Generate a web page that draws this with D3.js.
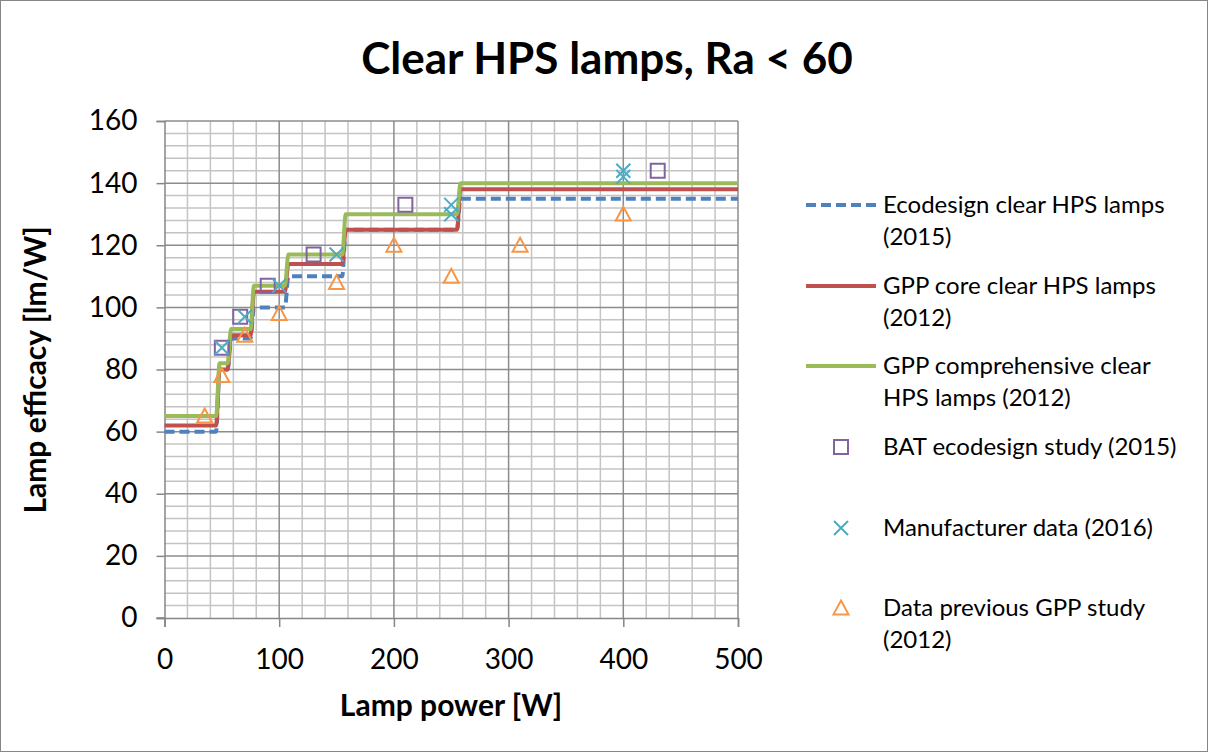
<!DOCTYPE html>
<html>
<head>
<meta charset="utf-8">
<script src="https://cdn.jsdelivr.net/npm/d3@7"></script>
<style>
  body { margin: 0; background: #fff; }
  svg { display: block; font-family: Lato, "Open Sans", sans-serif; }
</style>
</head>
<body>
<svg width="1209" height="753"></svg>
<script>
// step lines (lamp power W, efficacy lm/W)
const ecoPower = [0, 45, 48, 55, 58, 75, 78, 105, 108, 155, 158, 255, 258, 500];
const ecoEff   = [60, 60, 80, 80, 90, 90, 100, 100, 110, 110, 125, 125, 135, 135];
const corePower = [0, 45, 48, 55, 58, 75, 78, 105, 108, 155, 158, 255, 258, 500];
const coreEff   = [62, 62, 80, 80, 91, 91, 105, 105, 114, 114, 125, 125, 138, 138];
const compPower = [0, 45, 48, 55, 58, 75, 78, 105, 108, 155, 158, 255, 258, 500];
const compEff   = [65, 65, 82, 82, 93, 93, 107, 107, 117, 117, 130, 130, 140, 140];

// scatter series
const batPower = [50, 66, 90, 130, 210, 430];
const batEff   = [87, 97, 107, 117, 133, 144];
const manPower = [50, 70, 100, 150, 250, 250, 400, 400];
const manEff   = [87, 97, 107, 117, 133, 130, 144, 142];
const prevPower = [35, 50, 70, 100, 150, 200, 250, 310, 400];
const prevEff   = [65, 78, 91, 98, 108, 120, 110, 120, 130];

const xTicks = [0, 100, 200, 300, 400, 500];
const yTicks = [0, 20, 40, 60, 80, 100, 120, 140, 160];

const legendNames = [
  ["Ecodesign clear HPS lamps", "(2015)"],
  ["GPP core clear HPS lamps", "(2012)"],
  ["GPP comprehensive clear", "HPS lamps (2012)"],
  ["BAT ecodesign study (2015)"],
  ["Manufacturer data (2016)"],
  ["Data previous GPP study", "(2012)"]
];

var svg = d3.select("svg");
var x = d3.scaleLinear().domain([0, 500]).range([164.5, 738]);
var y = d3.scaleLinear().domain([0, 160]).range([618, 121]);

// chart border
svg.append("rect").attr("x", 0.5).attr("y", 0.5).attr("width", 1207).attr("height", 751)
  .attr("fill", "none").attr("stroke", "#868686").attr("stroke-width", 1);

// minor grid
var minorX = d3.range(0, 501, 20).filter(d => d % 100 != 0);
var minorY = d3.range(0, 161, 4).filter(d => d % 20 != 0);
svg.append("g").selectAll("line").data(minorX).enter().append("line")
  .attr("x1", d => x(d)).attr("x2", d => x(d)).attr("y1", y(0)).attr("y2", y(160))
  .attr("stroke", "#c4c4c4").attr("stroke-width", 1.5);
svg.append("g").selectAll("line").data(minorY).enter().append("line")
  .attr("x1", x(0)).attr("x2", x(500)).attr("y1", d => y(d)).attr("y2", d => y(d))
  .attr("stroke", "#c4c4c4").attr("stroke-width", 1.5);
// major grid
svg.append("g").selectAll("line").data(xTicks.slice(1)).enter().append("line")
  .attr("x1", d => x(d)).attr("x2", d => x(d)).attr("y1", y(0)).attr("y2", y(160))
  .attr("stroke", "#8c8c8c").attr("stroke-width", 1.5);
svg.append("g").selectAll("line").data(yTicks.slice(1)).enter().append("line")
  .attr("x1", x(0)).attr("x2", x(500)).attr("y1", d => y(d)).attr("y2", d => y(d))
  .attr("stroke", "#8c8c8c").attr("stroke-width", 1.5);

// axes
var yAxis = svg.append("g").attr("transform", "translate(" + x(0) + ",0)")
  .call(d3.axisLeft(y).tickValues(yTicks).tickSize(8).tickPadding(19));
var xAxis = svg.append("g").attr("transform", "translate(0," + y(0) + ")")
  .call(d3.axisBottom(x).tickValues(xTicks).tickSize(9).tickPadding(17));
[yAxis, xAxis].forEach(function(a) {
  a.select(".domain").attr("stroke", "#868686").attr("stroke-width", 1.5);
  a.selectAll(".tick line").attr("stroke", "#868686").attr("stroke-width", 1.5);
  a.selectAll(".tick text").attr("font-family", "Lato, sans-serif").attr("font-size", 28).attr("fill", "#000");
});
xAxis.selectAll(".tick text").attr("dy", "0.9em");
// small stub of x axis left of y axis
svg.append("line").attr("x1", x(0) - 8).attr("x2", x(0)).attr("y1", y(0)).attr("y2", y(0))
  .attr("stroke", "#868686").attr("stroke-width", 1.5);

// lines
var line = d3.line().x(d => x(d[0])).y(d => y(d[1])).curve(d3.curveMonotoneX);
var lineSeries = [
  { pts: d3.zip(ecoPower, ecoEff), color: "#4f81bd", dash: "10,5" },
  { pts: d3.zip(corePower, coreEff), color: "#c0504d", dash: null },
  { pts: d3.zip(compPower, compEff), color: "#9bbb59", dash: null }
];
lineSeries.forEach(function(s) {
  svg.append("path").datum(s.pts).attr("d", line)
    .attr("fill", "none").attr("stroke", s.color).attr("stroke-width", 4)
    .attr("stroke-dasharray", s.dash).attr("stroke-linejoin", "round");
});

// marker shapes
function squarePath(s) { return "M" + (-s) + "," + (-s) + "H" + s + "V" + s + "H" + (-s) + "Z"; }
function crossPath(s) { return "M" + (-s) + "," + (-s) + "L" + s + "," + s + "M" + s + "," + (-s) + "L" + (-s) + "," + s; }
function triPath(s) { return "M0," + (-s) + "L" + s + "," + (s * 0.85) + "L" + (-s) + "," + (s * 0.85) + "Z"; }

var scatterSeries = [
  { pts: d3.zip(batPower, batEff), color: "#8064a2", path: squarePath(7) },
  { pts: d3.zip(manPower, manEff), color: "#4bacc6", path: crossPath(7) },
  { pts: d3.zip(prevPower, prevEff), color: "#f79646", path: triPath(7.5) }
];
scatterSeries.forEach(function(s) {
  svg.append("g").selectAll("path").data(s.pts).enter().append("path")
    .attr("transform", d => "translate(" + x(d[0]) + "," + y(d[1]) + ")")
    .attr("d", s.path).attr("fill", "none").attr("stroke", s.color).attr("stroke-width", 2);
});

// titles
svg.append("text").attr("x", 607).attr("y", 74).attr("text-anchor", "middle")
  .attr("font-size", 44).attr("font-weight", "bold").text("Clear HPS lamps, Ra < 60");
svg.append("text").attr("x", 451).attr("y", 716).attr("text-anchor", "middle")
  .attr("font-size", 30).attr("font-weight", "bold").text("Lamp power [W]");
svg.append("text").attr("transform", "translate(46,370) rotate(-90)").attr("text-anchor", "middle")
  .attr("font-size", 30).attr("font-weight", "bold").text("Lamp efficacy [lm/W]");

// legend
var legendY = [205, 286, 366, 447, 528, 608];
var legend = svg.append("g");
legendNames.forEach(function(names, i) {
  var g = legend.append("g").attr("transform", "translate(0," + legendY[i] + ")");
  if (i < 3) {
    g.append("line").attr("x1", 806).attr("x2", 876).attr("y1", 0).attr("y2", 0)
      .attr("stroke", lineSeries[i].color).attr("stroke-width", 4)
      .attr("stroke-dasharray", lineSeries[i].dash);
  } else {
    var s = scatterSeries[i - 3];
    g.append("path").attr("transform", "translate(841,0)").attr("d", s.path)
      .attr("fill", "none").attr("stroke", s.color).attr("stroke-width", 2);
  }
  names.forEach(function(t, j) {
    g.append("text").attr("x", 883).attr("y", j * 32).attr("dy", "0.35em")
      .attr("font-size", 24).text(t);
  });
});
</script>
</body>
</html>
